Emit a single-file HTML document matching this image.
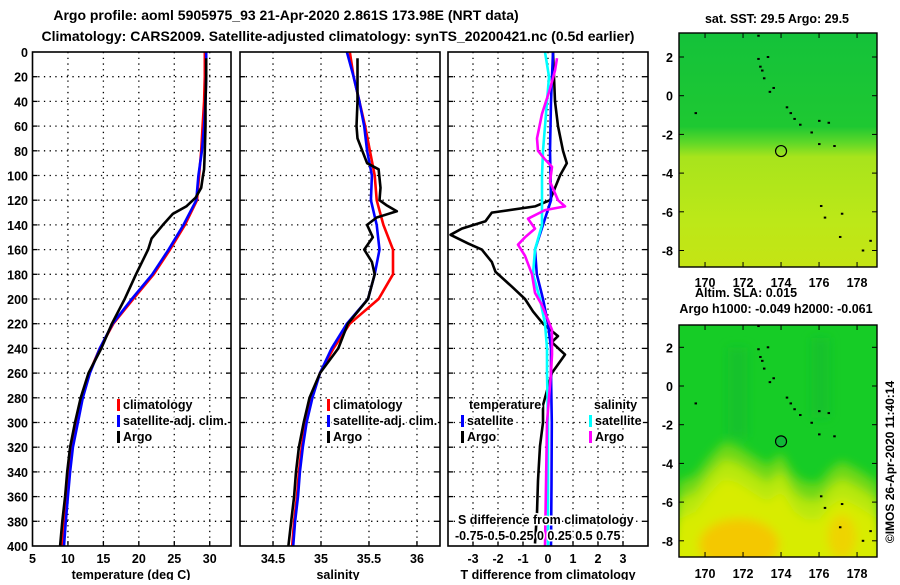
<!DOCTYPE html>
<html><head><meta charset="utf-8"><style>
body{margin:0;background:#fff;}
svg text{font-family:"Liberation Sans",sans-serif;font-weight:bold;fill:#000;}
</style></head><body>
<svg id="c" width="900" height="580" viewBox="0 0 900 580" xmlns="http://www.w3.org/2000/svg">
<defs>
<linearGradient id="g1" x1="0" y1="0" x2="0" y2="1">
<stop offset="0" stop-color="#14c23a"/><stop offset="0.4" stop-color="#1ec832"/><stop offset="0.47" stop-color="#60d828"/><stop offset="0.53" stop-color="#a8e41c"/><stop offset="0.8" stop-color="#bce818"/><stop offset="1" stop-color="#c4e414"/>
</linearGradient>
<filter id="blur" x="-10%" y="-10%" width="120%" height="120%"><feGaussianBlur stdDeviation="5"/></filter>
<clipPath id="clipB"><rect x="679" y="325" width="198" height="232"/></clipPath>
</defs>
<g id="main"></g>
</svg>
<script>
const depthGrid=[0,20,40,60,80,100,120,140,160,180,200,220,240,260,280,300,320,340,360,380,400];
const tTicks=[5,10,15,20,25,30];
const sTicks=[34.5,35,35.5,36];
const dTicks=[-3,-2,-1,0,1,2,3];
// Temperature profiles
const tClimDepth=[0,20,40,60,80,100,120,140,160,180,200,220,240,260,280,300,320,340,360,380,400];
const tClimVal=[29.3,29.3,29.2,29.0,28.8,28.5,28.2,26.5,24.4,22.1,19.2,16.4,14.5,13.0,12.0,11.2,10.5,10.1,9.8,9.5,9.25];
const tSatVal=[29.5,29.5,29.4,29.2,28.9,28.4,28.1,26.3,24.2,21.9,19.0,16.3,14.5,13.1,12.1,11.4,10.7,10.3,10.0,9.7,9.45];
const tArgoDepth=[5,20,40,60,80,95,100,110,118,125,131,140,151,160,180,200,220,240,260,280,300,320,340,360,380,400];
const tArgoVal=[29.5,29.5,29.4,29.4,29.3,29.2,29.05,28.8,28.0,26.7,24.8,23.4,21.8,21.3,19.6,18.0,16.2,14.7,12.9,11.8,11.0,10.3,9.9,9.6,9.2,8.9];
// Salinity profiles
const sClimVal=[35.30,35.34,35.40,35.46,35.51,35.56,35.58,35.65,35.75,35.75,35.60,35.30,35.13,34.99,34.90,34.84,34.80,34.77,34.75,34.72,34.70];
const sSatVal=[35.27,35.34,35.40,35.45,35.48,35.53,35.52,35.58,35.61,35.56,35.49,35.27,35.11,34.99,34.91,34.85,34.81,34.78,34.76,34.73,34.71];
const sArgoDepth=[5,20,40,60,70,80,90,95,110,120,124,129,134,140,150,160,170,180,200,220,240,260,280,300,320,340,360,380,400];
const sArgoVal=[35.38,35.38,35.38,35.37,35.38,35.43,35.48,35.60,35.62,35.61,35.68,35.79,35.58,35.48,35.54,35.45,35.53,35.56,35.49,35.28,35.18,34.99,34.88,34.82,34.77,34.74,34.72,34.69,34.66];
// Differences from climatology
const dtArgoDepth=[0,40,60,80,90,100,120,125,130,137,143,148,155,160,170,178,190,200,210,220,230,235,245,260,286,300,319,347,373,398];
const dtArgoVal=[0.2,0.28,0.4,0.6,0.75,0.48,0.08,-0.52,-2.25,-2.5,-3.45,-3.9,-3.2,-2.65,-2.25,-2.1,-1.45,-0.92,-0.6,-0.2,0.4,0.15,0.68,0.15,-0.2,-0.2,-0.32,-0.4,-0.44,-0.52];
const dtSatDepth=[0,40,80,120,140,160,180,200,220,240,260,300,350,400];
const dtSatVal=[0.2,0.12,0.08,0.12,-0.2,-0.52,-0.45,-0.2,0,0.12,0.12,0.15,0.14,0.12];
const dsSatDepth=[0,20,40,60,80,100,120,140,160,180,200,220,240,260,300,350,400];
const dsSatVal=[-0.03,0.01,-0.01,-0.03,-0.05,-0.06,-0.06,-0.06,-0.13,-0.15,-0.08,-0.03,-0.01,-0.01,0,0,0];
const dsArgoDepth=[5,15,30,50,70,80,87,93,105,120,125,128,135,143,150,156,165,180,195,205,225,245,260,300,350,400];
const dsArgoVal=[0.09,0.07,0.02,-0.06,-0.11,-0.1,-0.03,0.04,0.02,0.1,0.17,-0.03,-0.2,-0.13,-0.23,-0.3,-0.23,-0.16,-0.13,-0.06,0.04,0.04,0.03,-0.01,-0.02,-0.03];
// map data
const argoLon=174.0, argoLat=-2.861;
const latTicks=[2,0,-2,-4,-6,-8];
const lonTicks=[170,172,174,176,178];
const islandLon=[172.8,172.9,173.0,173.1,173.3,173.4,173.6,174.3,174.5,174.7,175.0,175.6,176.0,176.5,176.0,176.8,176.1,176.3,177.2,177.1,178.3,178.7,169.5,172.8];
const islandLat=[1.9,1.5,1.3,0.9,2.0,0.2,0.4,-0.6,-0.9,-1.2,-1.5,-1.9,-1.3,-1.4,-2.5,-2.6,-5.7,-6.3,-6.1,-7.3,-8.0,-7.5,-0.9,3.1];
// SLA map contour (lon, lat of green/yellow boundary)
const slaEdgeLon=[168.6,169.5,170.3,171.0,171.7,172.5,173.3,174.0,174.7,175.3,176.0,176.6,177.2,178.0,179.1];
const slaEdgeLat=[-5.0,-4.6,-3.6,-2.9,-3.1,-3.6,-4.1,-3.5,-4.6,-5.0,-5.0,-4.3,-3.9,-4.3,-5.0];

const NS='http://www.w3.org/2000/svg';
const root=document.getElementById('main');
function el(tag,attrs,parent){const e=document.createElementNS(NS,tag);for(const k in attrs)e.setAttribute(k,attrs[k]);(parent||root).appendChild(e);return e;}
function txt(x,y,s,size,anchor,parent){const t=el('text',{x:x,y:y,'font-size':size,'text-anchor':anchor||'start'},parent);t.textContent=s;return t;}

const Y0=52,Y1=546;
function yD(d){return Y0+(Y1-Y0)*d/400;}

const panels=[
 {name:'temperature-panel',x0:32.5,x1:231,v0:5,v1:33,ticks:tTicks,xlabel:'temperature (deg C)',lx:131},
 {name:'salinity-panel',x0:240,x1:440,v0:34.156,v1:36.24,ticks:sTicks,xlabel:'salinity',lx:338},
 {name:'difference-panel',x0:448,x1:648,v0:-4,v1:4,ticks:dTicks,xlabel:'T difference from climatology',lx:548}
];
panels.forEach((p,pi)=>{
 p.f=v=>p.x0+(v-p.v0)/(p.v1-p.v0)*(p.x1-p.x0);
 const g=el('g',{});
 
 
 el('rect',{x:p.x0,y:Y0,width:p.x1-p.x0,height:Y1-Y0,fill:'#fff',stroke:'none'},g);
 depthGrid.forEach(d=>{ if(d>0&&d<400){
  el('line',{x1:p.x0,x2:p.x1,y1:yD(d),y2:yD(d),stroke:'#000','stroke-width':1.3,'stroke-dasharray':'1.3 4.4'},g);
  el('line',{x1:p.x0,x2:p.x0+5,y1:yD(d),y2:yD(d),stroke:'#000','stroke-width':1.3},g);
  el('line',{x1:p.x1-5,x2:p.x1,y1:yD(d),y2:yD(d),stroke:'#000','stroke-width':1.3},g);
 }});
 p.ticks.forEach(v=>{const x=p.f(v);
  if(x>p.x0+2&&x<p.x1-2){el('line',{x1:x,x2:x,y1:Y0,y2:Y1,stroke:'#000','stroke-width':1.3,'stroke-dasharray':'1.3 4.4'},g);
  el('line',{x1:x,x2:x,y1:Y1-5,y2:Y1,stroke:'#000','stroke-width':1.3},g);}
  const t=txt(x,563,String(v),12.5,'middle',g);
  
  
 });
 const xl=txt(p.lx,579,p.xlabel,12.5,'middle',g);
 
 
 p.g=g;
});
depthGrid.forEach(d=>{const t=txt(28,yD(d)+5,String(d),12.5,'end');
 
 });

function line(p,depths,vals,color,f,name){
 const pts=depths.map((d,i)=>f(vals[i]).toFixed(1)+','+yD(d).toFixed(1)).join(' ');
 const l=el('polyline',{points:pts,fill:'none',stroke:color,'stroke-width':2.6,'stroke-linejoin':'round'},p.g);
 
 
}
const P1=panels[0],P2=panels[1],P3=panels[2];
line(P1,tClimDepth,tClimVal,'#f00',P1.f,'temperature-climatology-line');
line(P1,tClimDepth,tSatVal,'#00f',P1.f,'temperature-satellite-line');
line(P1,tArgoDepth,tArgoVal,'#000',P1.f,'temperature-argo-line');
line(P2,tClimDepth,sClimVal,'#f00',P2.f,'salinity-climatology-line');
line(P2,tClimDepth,sSatVal,'#00f',P2.f,'salinity-satellite-line');
line(P2,sArgoDepth,sArgoVal,'#000',P2.f,'salinity-argo-line');
const fS=v=>P3.f(0)+v*100;
line(P3,dtArgoDepth,dtArgoVal,'#000',P3.f,'t-diff-argo-line');
line(P3,dtSatDepth,dtSatVal,'#00f',P3.f,'t-diff-satellite-line');
line(P3,dsSatDepth,dsSatVal,'#0ff',fS,'s-diff-satellite-line');
line(P3,dsArgoDepth,dsArgoVal,'#f0f',fS,'s-diff-argo-line');
panels.forEach(p=>el('rect',{x:p.x0,y:Y0,width:p.x1-p.x0,height:Y1-Y0,fill:'none',stroke:'#000','stroke-width':1.6},p.g));

function legend(g,x,y,color,label,name){
 const lg=el('g',{},g);
 
 
 if(color) el('rect',{x:x,y:y-10,width:3,height:12,fill:color},lg);
 const t=txt(x+(color?6:0),y,label,12.5,'start',lg);
 t.setAttribute('paint-order','stroke');t.setAttribute('stroke','#fff');t.setAttribute('stroke-width','3');
}
[[P1,117],[P2,327]].forEach(([p,x])=>{
 legend(p.g,x,409,'#f00','climatology','legend-climatology');
 legend(p.g,x,425,'#00f','satellite-adj. clim.','legend-satellite');
 legend(p.g,x,441,'#000','Argo','legend-argo');
});
legend(P3.g,469,409,null,'temperature','legend-temperature-heading');
legend(P3.g,461,425,'#00f','satellite','legend-t-satellite');
legend(P3.g,461,441,'#000','Argo','legend-t-argo');
legend(P3.g,594,409,null,'salinity','legend-salinity-heading');
legend(P3.g,589,425,'#0ff','satellite','legend-s-satellite');
legend(P3.g,589,441,'#f0f','Argo','legend-s-argo');
legend(P3.g,458,524,null,'S difference from climatology','s-axis-title');
legend(P3.g,455,540,null,'-0.75-0.5-0.25  0   0.25 0.5 0.75','s-axis-tick-labels');

let t=txt(286,20,'Argo profile: aoml 5905975_93 21-Apr-2020 2.861S 173.98E (NRT data)',14,'middle');

t=txt(338,41,'Climatology: CARS2009. Satellite-adjusted climatology: synTS_20200421.nc (0.5d earlier)',14,'middle');


// maps
const MX0=679,MX1=877,LON0=168.63,LON1=179.05,LATPX=19.35;
function mx(lon){return MX0+(lon-LON0)/(LON1-LON0)*(MX1-MX0);}
function drawMap(top,bot,lat0y,kind,name,xlabY){
 const g=el('g',{});
 
 
 const my=lat=>lat0y-lat*LATPX;
 if(kind==='sst'){
  el('rect',{x:MX0,y:top,width:MX1-MX0,height:bot-top,fill:'url(#g1)'},g);
 } else {
  el('rect',{x:MX0,y:top,width:MX1-MX0,height:bot-top,fill:'#16cc26'},g);
  const cg=el('g',{'clip-path':'url(#clipB)'},g);
  const bg=el('g',{filter:'url(#blur)'},cg);
  el('rect',{x:mx(171.2),y:my(2),width:20,height:90,fill:'#10b830',opacity:0.5},bg);
  el('rect',{x:mx(175.6),y:my(2.5),width:18,height:80,fill:'#10b830',opacity:0.5},bg);
  const mk=(dl,col)=>{const pts=slaEdgeLon.map((lo,i)=>mx(lo).toFixed(1)+','+my(slaEdgeLat[i]-dl).toFixed(1));
   pts.push(mx(179.5)+','+(bot+20));pts.push(mx(168)+','+(bot+20));
   el('polygon',{points:pts.join(' '),fill:col},bg);};
  mk(0,'#70d818');mk(0.9,'#b8e80c');mk(1.9,'#d8ec00');
  el('ellipse',{cx:mx(171.8),cy:my(-8.2),rx:40,ry:26,fill:'#f4c800'},bg);
  el('ellipse',{cx:mx(177.2),cy:my(-7.8),rx:14,ry:22,fill:'#eed400'},bg);
 }
 islandLon.forEach((lo,i)=>{el('rect',{x:mx(lo)-1,y:my(islandLat[i])-1,width:2.5,height:2,fill:'#000'},g);});
 const c=el('circle',{cx:mx(argoLon),cy:my(argoLat),r:5.5,fill:kind==='sst'?'none':'#10b838',stroke:'#000','stroke-width':1.2},g);
 
 
 el('rect',{x:MX0,y:top,width:MX1-MX0,height:bot-top,fill:'none',stroke:'#000','stroke-width':1.4},g);
 latTicks.forEach(la=>{const y=my(la);
  el('line',{x1:MX0,x2:MX0+5,y1:y,y2:y,stroke:'#000'},g);el('line',{x1:MX1-5,x2:MX1,y1:y,y2:y,stroke:'#000'},g);
  const tt=txt(673,y+5,String(la),12.5,'end',g);
  });
 lonTicks.forEach(lo=>{const x=mx(lo);
  el('line',{x1:x,x2:x,y1:bot-5,y2:bot,stroke:'#000'},g);el('line',{x1:x,x2:x,y1:top,y2:top+5,stroke:'#000'},g);
  const tt=txt(x,xlabY,String(lo),12.5,'middle',g);
  });
}
drawMap(33,267,95.7,'sst','sst-map',287);
drawMap(325,557,386,'sla','sla-map',578);
t=txt(777,23,'sat. SST: 29.5 Argo: 29.5',12.5,'middle');

t=txt(746,297,'Altim. SLA: 0.015',12.5,'middle');

t=txt(776,313,'Argo h1000: -0.049 h2000: -0.061',12.5,'middle');

t=txt(0,0,'©IMOS 26-Apr-2020 11:40:14',12,'middle');
t.setAttribute('transform','translate(894,462) rotate(-90)');
t.setAttribute('font-weight','normal');

</script>
</body></html>
